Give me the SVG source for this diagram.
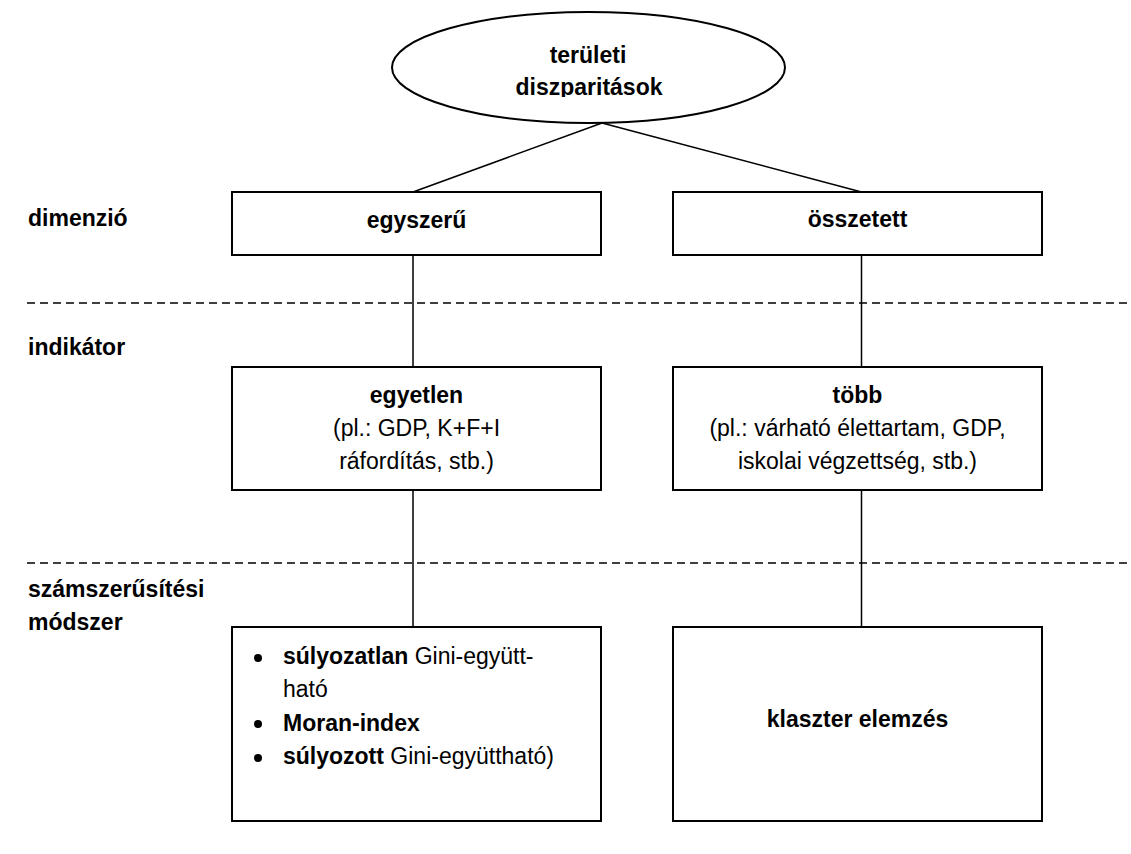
<svg xmlns="http://www.w3.org/2000/svg" width="1131" height="854" viewBox="0 0 1131 854">
<style>
  .box { fill: #fff; stroke: #000; stroke-width: 2; }
  .conn { stroke: #000; stroke-width: 1.5; fill: none; }
  .sep { stroke: #000; stroke-width: 1.6; stroke-dasharray: 8 5; fill: none; }
  .b { font-family: "Liberation Sans", Arial, sans-serif; font-weight: bold; font-size: 23px; fill: #000; }
  .r { font-family: "Liberation Sans", Arial, sans-serif; font-weight: normal; font-size: 23px; fill: #000; }
  .c { text-anchor: middle; }
</style>
<defs>
  <clipPath id="ellclip"><rect x="380" y="0" width="420" height="97"/></clipPath>
</defs>
<rect width="1131" height="854" fill="#fff"/>

<g id="separators">
  <line class="sep" x1="27" y1="303" x2="1131" y2="303"/>
  <line class="sep" x1="27" y1="563" x2="1131" y2="563"/>
</g>

<g id="row-labels">
  <text class="b" x="28" y="226">dimenzió</text>
  <text class="b" x="28" y="355">indikátor</text>
  <text class="b" x="28" y="597">számszerűsítési</text>
  <text class="b" x="28" y="630">módszer</text>
</g>

<g id="connectors">
  <line class="conn" x1="602" y1="123" x2="413" y2="192"/>
  <line class="conn" x1="602" y1="123" x2="861.5" y2="192"/>
  <line class="conn" x1="413" y1="255" x2="413" y2="367"/>
  <line class="conn" x1="861.5" y1="255" x2="861.5" y2="367"/>
  <line class="conn" x1="413" y1="490" x2="413" y2="627"/>
  <line class="conn" x1="861.5" y1="490" x2="861.5" y2="627"/>
</g>

<g id="root">
  <ellipse class="box" cx="588.5" cy="67.5" rx="196.5" ry="55.5"/>
  <text class="b c" x="588" y="63">területi</text>
  <text class="b c" x="589" y="94.5" clip-path="url(#ellclip)">diszparitások</text>
</g>

<g id="egyszeru">
  <rect class="box" x="232" y="192" width="369" height="63"/>
  <text class="b c" x="416.5" y="228">egyszerű</text>
</g>

<g id="osszetett">
  <rect class="box" x="673" y="192" width="369" height="63"/>
  <text class="b c" x="857.5" y="227">összetett</text>
</g>

<g id="egyetlen">
  <rect class="box" x="232" y="367" width="369" height="123"/>
  <text class="b c" x="416.5" y="403">egyetlen</text>
  <text class="r c" x="416.5" y="436">(pl.: GDP, K+F+I</text>
  <text class="r c" x="416.5" y="468.5">ráfordítás, stb.)</text>
</g>

<g id="tobb">
  <rect class="box" x="673" y="367" width="369" height="123"/>
  <text class="b c" x="857.5" y="403">több</text>
  <text class="r c" x="857.5" y="436">(pl.: várható élettartam, GDP,</text>
  <text class="r c" x="857.5" y="468.5">iskolai végzettség, stb.)</text>
</g>

<g id="modszer-egy">
  <rect class="box" x="232" y="627" width="369" height="194"/>
  <circle cx="258" cy="658" r="4"/>
  <circle cx="258" cy="724" r="4"/>
  <circle cx="258" cy="758" r="4"/>
  <text x="283" y="664"><tspan class="b">súlyozatlan</tspan><tspan class="r"> Gini-együtt-</tspan></text>
  <text class="r" x="283" y="697">ható</text>
  <text class="b" x="283" y="730.5">Moran-index</text>
  <text x="283" y="764"><tspan class="b">súlyozott</tspan><tspan class="r"> Gini-együttható)</tspan></text>
</g>

<g id="klaszter">
  <rect class="box" x="673" y="627" width="369" height="194"/>
  <text class="b c" x="857.5" y="727">klaszter elemzés</text>
</g>
</svg>
